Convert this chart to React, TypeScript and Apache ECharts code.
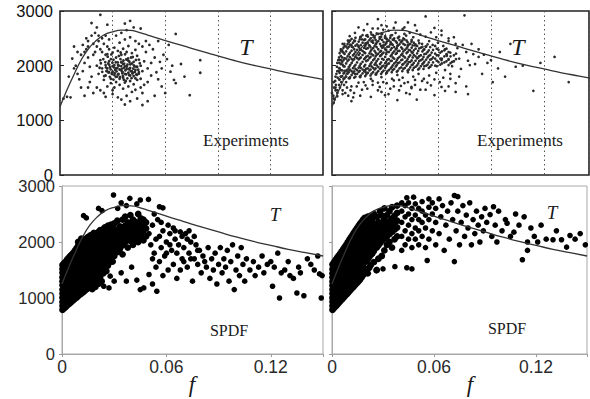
import React, { useEffect, useRef } from "react";
import * as echarts from "echarts";

// Model curve T(f)
const curveF = [0, 0.004, 0.008, 0.012, 0.016, 0.02, 0.025, 0.03, 0.035, 0.04, 0.045, 0.05, 0.06, 0.07, 0.08, 0.09, 0.1, 0.11, 0.12, 0.13, 0.14, 0.15];
const curveT = [1250, 1560, 1840, 2100, 2300, 2440, 2560, 2620, 2650, 2645, 2610, 2560, 2460, 2365, 2270, 2180, 2090, 2010, 1940, 1870, 1810, 1750];

const yTicks = [0, 1000, 2000, 3000];
const xTickValues = [0, 0.06, 0.12];
const xTickLabels = ["0", "0.06", "0.12"];

// Experiments, left panel
const expLeft: number[][] = [
[.026,1820],[.027,1950],[.028,2080],[.029,1760],[.030,1890],[.031,2010],[.032,2150],[.033,1840],[.034,1930],[.035,2060],[.036,1780],[.037,1990],[.038,2110],[.039,1870],[.040,1960],[.041,2040],[.042,1810],[.043,1920],[.044,2180],[.045,1880],
[.026,2010],[.027,2210],[.028,1880],[.029,2120],[.030,1990],[.031,1830],[.032,1950],[.033,2060],[.034,1760],[.035,1910],[.036,2030],[.037,1850],[.038,1940],[.039,2090],[.040,1820],[.041,1900],[.042,2070],[.043,1770],[.044,1980],[.045,2110],
[.0265,1900],[.0275,2040],[.0285,1970],[.0295,1850],[.0305,2110],[.0315,1920],[.0325,1800],[.0335,2000],[.0345,2120],[.0355,1860],[.0365,1960],[.0375,1720],[.0385,2020],[.0395,1940],[.0405,2150],[.0415,1870],[.0425,1990],[.0435,1840],
[.030,2240],[.033,2270],[.035,2200],[.038,2250],[.041,2230],[.028,2300],[.031,2330],[.036,2310],[.039,2360],[.043,2290],
[.029,1680],[.032,1700],[.034,1650],[.037,1690],[.040,1720],[.042,1660],[.044,1740],[.031,1600],[.036,1580],[.039,1620],
[.024,1950],[.023,2100],[.022,1850],[.024,2250],[.021,2000],[.025,1740],[.046,2000],[.047,1900],[.048,2080],[.046,1760],
[.015,2300],[.016,2150],[.017,1980],[.018,1800],[.019,2400],[.020,2250],[.014,2050],[.013,1900],[.012,2200],[.017,1700],
[.018,2550],[.020,2600],[.022,2450],[.024,2500],[.026,2550],[.028,2480],[.021,1600],[.023,1550],[.025,1500],[.027,1620],
[.030,1480],[.033,1420],[.035,1380],[.038,1450],[.041,1520],[.043,1560],[.046,1600],[.048,1650],[.050,1700],[.052,1820],
[.050,1950],[.052,2050],[.054,2150],[.049,2250],[.047,2350],[.045,2400],[.043,2450],[.040,2520],[.037,2480],[.034,2420],
[.032,2550],[.035,2600],[.038,2650],[.042,2700],[.055,1880],[.056,1750],[.058,1950],[.057,2070],[.059,2200],[.053,2300],
[.051,2380],[.049,2450],[.047,1500],[.044,1400],[.040,1350],[.037,1290],[.030,1550],[.026,1430],[.019,1500],[.016,1600],
[.011,1750],[.010,1850],[.009,2000],[.012,1600],[.014,1450],[.010,2250],[.008,2350],[.013,2380],[.016,2450],[.021,2700],
[.014,2250],[.016,2350],[.019,2200],[.021,2350],[.023,2300],[.025,2400],[.027,2350],[.015,2500],[.022,2550],[.026,2200],
[.002,1400],[.004,1430],[.006,1420],[.007,2130],[.008,1950],[.005,1800],[.018,2780],[.023,2930],[.027,2750],[.040,2820],
[.037,2770],[.046,2680],[.066,2580],[.062,2380],[.080,2100],[.080,1870],[.074,1460],[.071,1800],[.065,1740],[.066,1680],
[.063,1890],[.060,1500],[.058,1620],[.064,2000],[.061,2120],[.069,2030],[.056,2450],[.054,1450],[.050,1350],[.047,1280],
[.0252,1810],[.0268,1905],[.0281,2015],[.0247,2120],[.0293,2205],[.0305,1745],[.0312,1862],[.0327,1958],[.0318,2063],[.0336,2178],
[.0342,1793],[.0357,1885],[.0349,1992],[.0362,2095],[.0371,2208],[.0384,1768],[.0377,1842],[.0392,1937],[.0401,2026],[.0388,2132],
[.0413,1858],[.0408,1772],[.0421,2006],[.0433,2105],[.0446,1926],[.0439,1832],[.0455,2045],[.0262,1968],[.0276,1876],[.0289,1932],
[.0299,2052],[.0323,1896],[.0331,2012],[.0353,1946],[.0366,2037],[.0381,1985],[.0396,2071],[.0418,1947],[.0427,1885],[.0284,1795],
[.0309,1968],[.0334,1848],[.0359,1812],[.0373,1915],[.0403,1903],[.0258,2065],[.0272,2164],[.0346,2241],[.0364,1742],[.0394,1829],
[.0415,2158],[.0297,1868],[.0318,1795],[.0351,2068],[.0379,2116],[.0436,1977],[.0449,1853],[.0241,1887],[.0226,1962],[.0233,2043]
];

// Experiments, right panel (individual points)
const expRight: number[][] = [
[.020,2760],[.026,2850],[.031,2720],[.036,2790],[.041,2700],[.047,2740],[.053,2900],[.075,2920],[.015,2700],[.058,2690],[.043,2790],[.029,2660],[.028,2740],
[.010,2540],[.013,2600],[.016,2520],[.018,2650],[.020,2560],[.022,2610],[.024,2530],[.026,2680],[.028,2580],[.030,2510],[.032,2640],[.034,2560],[.036,2600],[.038,2530],[.040,2670],[.042,2550],[.044,2600],[.046,2520],[.048,2640],[.050,2570],[.053,2530],[.056,2610],[.059,2520],[.062,2560],[.066,2500],[.023,2680],[.035,2690],[.027,2520],[.041,2580],[.033,2510],
[.007,2400],[.009,2460],[.011,2380],[.013,2450],[.015,2360],[.017,2480],[.019,2410],[.021,2370],[.023,2460],[.025,2400],[.027,2490],[.029,2370],[.031,2440],[.033,2390],[.035,2470],[.037,2360],[.039,2430],[.041,2480],[.043,2380],[.045,2440],[.047,2370],[.049,2460],[.051,2400],[.053,2350],[.055,2450],[.057,2380],[.060,2420],[.063,2360],[.066,2450],[.070,2400],[.074,2380],
[.006,2250],[.064,2300],[.067,2240],[.071,2320],[.076,2250],[.080,2210],[.065,2200],
[.005,2100],[.062,2100],[.065,2180],[.068,2070],[.072,2130],[.077,2090],[.083,2160],[.088,2050],[.066,2110],
[.004,1950],[.006,2020],[.064,1920],[.068,1990],[.073,1940],[.078,2010],
[.005,1800],[.007,1870],[.010,1770],[.013,1850],[.016,1790],[.019,1880],[.022,1760],[.025,1840],[.028,1790],[.031,1870],[.034,1760],[.037,1830],[.040,1780],[.043,1880],[.046,1800],[.049,1850],[.052,1760],[.055,1820],[.059,1870],[.063,1780],[.067,1850],[.072,1800],
[.004,1650],[.008,1700],[.011,1620],[.015,1690],[.019,1640],[.023,1720],[.027,1610],[.031,1680],[.035,1730],[.039,1630],[.043,1700],[.047,1650],[.051,1720],[.056,1640],[.061,1700],[.066,1620],[.070,1680],[.026,1690],[.038,1740],[.045,1610],
[.003,1550],[.006,1480],[.012,1420],[.017,1560],[.022,1430],[.028,1520],[.033,1580],[.037,1370],[.042,1500],[.048,1380],[.053,1560],[.058,1460],[.064,1540],[.070,1520],[.077,1480],[.030,1460],[.045,1590],[.003,1440],[.001,1320],[.002,1600],
[.079,2400],[.083,2300],[.086,2200],[.090,2100],[.094,1950],[.098,1800],[.095,2250],[.101,2400],[.108,2000],[.114,1540],[.118,2050],[.126,2160],[.134,1700],[.062,2640],[.085,1850],[.091,1700],[.104,1980],[.076,1620],[.069,2520],[.081,2030],
[.001,1400],[.001,1700],[.002,1800],[.002,1550],[.003,1900],[.003,2050],[.004,2150],[.004,1750],[.005,2300],[.000,1500],[.006,2400],
[.0008,1450],[.0012,1600],[.0018,1720],[.0022,1650],[.0025,1850],[.0028,1980],[.0032,1780],[.0035,2100],[.0038,1900],[.0042,2050],
[.0015,1380],[.0030,1500],[.0045,1600],[.0052,1700],[.0060,1550],[.0068,1650],[.0075,1500],[.0085,1600],[.0092,1450],[.0105,1550],
[.0110,1350],[.0125,1500],[.0140,1620],[.0160,1450],[.0180,1700],[.0200,1580],[.0230,1650],[.0260,1550],[.0290,1700],[.0320,1480],
[.0350,1620],[.0380,1550],[.0410,1680],[.0440,1480],[.0470,1740],[.0500,1560],[.0540,1690],[.0580,1750],[.0620,1610],[.0670,1760]
];
// Experiments, right panel (dense core, column by column)
const expRightCore: [number, number[]][] = [
[.0043,[1745,1870,1955,2105,2230]],
[.0050,[1800,1920,2030,2180,2270]],
[.0058,[1810,1915,2070,2150,2290]],
[.0065,[1760,1860,1990,2100,2240,2330]],
[.0071,[1770,1905,1985,2135,2215,2360]],
[.0080,[1800,1910,2040,2130,2260,2350]],
[.0088,[1855,1930,2085,2170,2315,2395]],
[.0095,[1770,1880,1975,2110,2205,2345,2430]],
[.0102,[1790,1925,2010,2155,2240,2385,2460]],
[.0111,[1830,1900,2050,2125,2275,2350,2490]],
[.0119,[1870,1955,2100,2190,2335,2420]],
[.0126,[1780,1895,1985,2120,2215,2300,2460]],
[.0133,[1800,1940,2015,2165,2250,2365,2510]],
[.0142,[1850,1920,2060,2140,2290,2390]],
[.0151,[1885,1965,2115,2195,2345,2440]],
[.0157,[1800,1905,2000,2135,2225,2310,2480]],
[.0163,[1820,1960,2035,2150,2290,2375,2530]],
[.0173,[1860,1930,2070,2195,2270,2420,2560]],
[.0182,[1900,1985,2120,2245,2325,2470]],
[.0188,[1810,1920,2015,2140,2230,2360,2480]],
[.0194,[1840,1945,2085,2165,2310,2395,2550]],
[.0203,[1870,1950,2100,2180,2320,2420,2530]],
[.0212,[1915,1995,2140,2225,2370,2465]],
[.0218,[1820,1930,2030,2160,2260,2340,2500]],
[.0224,[1855,1985,2060,2210,2295,2440,2570]],
[.0233,[1880,1960,2100,2190,2320,2420,2560]],
[.0241,[1930,2020,2130,2270,2355,2510]],
[.0247,[1840,1950,2050,2170,2240,2390,2470]],
[.0253,[1870,2005,2085,2200,2340,2425,2590]],
[.0262,[1900,1975,2120,2220,2300,2450,2580]],
[.0272,[1940,2030,2175,2255,2400,2505]],
[.0278,[1850,1960,2060,2190,2270,2360,2530]],
[.0284,[1880,1985,2125,2215,2330,2470,2580]],
[.0292,[1910,2000,2110,2240,2340,2430]],
[.0301,[1960,2045,2160,2300,2385,2540]],
[.0307,[1860,1990,2070,2210,2290,2410,2500]],
[.0313,[1895,2025,2110,2250,2345,2480]],
[.0322,[1920,2040,2120,2250,2350,2460]],
[.0332,[1950,2085,2175,2290,2430,2550]],
[.0338,[1880,1975,2090,2200,2320,2400]],
[.0344,[1920,2005,2150,2235,2380,2475]],
[.0352,[1940,2040,2130,2260,2340,2500]],
[.0361,[1985,2065,2215,2300,2445]],
[.0367,[1890,2010,2100,2230,2320,2420]],
[.0373,[1910,2045,2135,2270,2370,2510]],
[.0382,[1950,2060,2160,2270,2390,2470]],
[.0392,[1970,2100,2195,2335,2430]],
[.0398,[1900,2020,2110,2220,2310,2460]],
[.0404,[1940,2030,2175,2260,2400,2500]],
[.0413,[1960,2060,2150,2290,2380]],
[.0422,[2000,2085,2230,2315,2460]],
[.0428,[1910,2030,2120,2250,2350,2430]],
[.0435,[1930,2065,2160,2290,2385]],
[.0443,[1970,2070,2190,2280,2400]],
[.0451,[2010,2095,2245,2330,2470]],
[.0457,[1920,2020,2150,2240,2370]],
[.0463,[1960,2050,2195,2280,2420]],
[.0473,[1980,2090,2170,2310,2390]],
[.0482,[2005,2135,2225,2360]],
[.0488,[1930,2040,2150,2270]],
[.0494,[1950,2085,2175,2315,2410]],
[.0503,[1990,2100,2190,2330]],
[.0512,[2030,2120,2260,2345]],
[.0518,[1940,2050,2160,2290]],
[.0523,[1990,2075,2210,2300]],
[.0533,[2000,2110,2220,2350]],
[.0541,[2020,2150,2250,2390]],
[.0548,[1960,2060,2180,2280]],
[.0556,[1980,2110,2195,2340]],
[.0564,[2010,2120,2240]],
[.0572,[2060,2150,2290]],
[.0584,[2000,2130,2220,2360]],
[.0593,[1990,2090,2190,2310]],
[.0603,[2065,2190,2290]],
[.0613,[2020,2130,2240]],
[.0622,[2040,2130,2260]],
[.0636,[2060,2170,2280]],
[.0648,[2080,2210,2310]],
[.0660,[2010,2120,2250]],
[.0671,[2045,2170]],
[.0690,[2080,2190]],
[.0702,[2120,2220]]
];

// SPDF, left panel (dense band, column by column)
const spdLeftBand: [number, number[]][] = [
[.0003,[790,860,930,1010,1080,1150,1230,1300,1370,1450,1520,1590]],
[.0012,[815,890,960,1035,1105,1180,1250,1325,1400,1470,1545,1620]],
[.0021,[840,915,985,1060,1130,1205,1280,1350,1425,1495,1570,1650]],
[.0030,[870,940,1015,1085,1160,1230,1305,1380,1450,1525,1600,1690]],
[.0039,[890,965,1040,1110,1185,1255,1330,1405,1475,1550,1625,1720]],
[.0048,[915,990,1060,1135,1210,1280,1355,1430,1500,1575,1650,1750]],
[.0057,[940,1015,1090,1160,1235,1310,1380,1455,1530,1600,1680,1780]],
[.0066,[965,1040,1115,1185,1260,1335,1410,1480,1555,1630,1710,1810]],
[.0075,[990,1065,1140,1215,1285,1360,1435,1510,1580,1655,1740,1850]],
[.0084,[1010,1090,1165,1240,1310,1385,1460,1535,1610,1685,1770,1890]],
[.0093,[1035,1110,1190,1265,1340,1410,1485,1560,1640,1720,1810,1930,2000]],
[.0102,[1060,1135,1210,1290,1365,1440,1510,1590,1670,1750,1840,1960]],
[.0111,[1080,1160,1235,1315,1390,1465,1540,1620,1700,1780,1870,1990,2060]],
[.0120,[1100,1180,1260,1340,1415,1490,1570,1650,1730,1810,1900,2020]],
[.0129,[1125,1205,1290,1365,1440,1520,1600,1680,1760,1840,1930,2040]],
[.0138,[1150,1235,1310,1390,1470,1550,1630,1710,1790,1870,1960,2060]],
[.0147,[1170,1330,1415,1495,1575,1655,1735,1815,1900,1990,2080]],
[.0156,[1195,1280,1440,1520,1600,1680,1760,1840,1925,2010,2100]],
[.0165,[1220,1380,1465,1545,1625,1705,1790,1870,1950,2040,2120]],
[.0174,[1160,1320,1490,1570,1650,1735,1815,1895,1980,2070]],
[.0183,[1270,1430,1515,1600,1680,1760,1845,1925,2010,2100,2160]],
[.0192,[1200,1370,1545,1625,1710,1790,1870,1955,2040,2130]],
[.0201,[1320,1480,1570,1655,1735,1820,1900,1985,2070,2150]],
[.0210,[1260,1420,1600,1685,1765,1850,1930,2015,2100,2180]],
[.0219,[1380,1540,1630,1715,1795,1880,1960,2045,2130,2210]],
[.0228,[1300,1470,1660,1745,1825,1910,1990,2075,2160]],
[.0237,[1440,1600,1690,1775,1860,1940,2025,2110,2230]],
[.0246,[1520,1640,1725,1810,1890,1975,2060,2145,2260]],
[.0255,[1480,1680,1760,1845,1925,2010,2095,2180]],
[.0264,[1580,1720,1800,1880,1960,2045,2130,2220,2290]],
[.0273,[1640,1760,1840,1920,2000,2085,2170,2260]],
[.0282,[1700,1800,1880,1960,2040,2125,2210,2310]],
[.0291,[1650,1840,1920,2000,2085,2170,2250]],
[.0300,[1750,1880,1960,2045,2130,2215,2330]],
[.0318,[1820,1950,2040,2130,2220,2380]],
[.0333,[1880,2000,2090,2180,2280]],
[.0348,[1780,1940,2050,2140,2230,2400]],
[.0363,[2000,2100,2190,2290,2450]],
[.0378,[1900,2060,2150,2250,2350]],
[.0393,[2020,2120,2210,2310,2480]],
[.0408,[1950,2080,2180,2280,2400]],
[.0423,[2050,2150,2250,2360]],
[.0438,[2000,2120,2220,2330,2500]],
[.0453,[2080,2190,2300,2420]],
[.0468,[2030,2150,2270,2400]],
[.0483,[2100,2240,2350]]
];
// SPDF, left panel (individual points)
const spdLeft: number[][] = [
[.0124,2470],[.014,2430],[.021,2600],[.023,2560],[.0296,2840],[.034,2700],[.039,2780],[.045,2750],[.0497,2760],[.056,2630],[.058,2610],[.043,2680],[.032,2600],[.037,2650],
[.024,1210],[.027,1180],[.0277,1390],[.037,1300],[.047,1180],[.0545,1120],[.043,1320],[.034,1450],[.040,1550],[.050,1420],[.030,1300],[.021,1250],[.045,1150],[.052,1250],
[.050,2150],[.051,1950],[.052,2300],[.053,1800],[.054,2050],[.055,2400],[.056,1650],[.057,1900],[.058,2200],[.059,1750],[.060,2000],[.061,1500],[.062,2150],[.063,1850],[.064,1600],[.065,2050],[.066,1350],[.067,1950],[.068,2180],[.069,1700],[.070,1900],[.071,2150],[.072,1550],[.073,1800],[.074,2000],[.075,1300],[.076,1700],[.077,1950],[.078,1600],[.079,1850],[.080,1450],[.081,1750],[.082,1650],[.083,1550],[.084,1900],[.085,1350],[.086,1700],[.087,1500],[.088,1800],[.089,1250],[.090,1600],[.091,1900],[.092,1450],[.093,1700],[.094,1550],[.095,1850],[.096,1300],[.097,1650],[.098,1950],[.099,1150],[.100,1500],[.101,1750],[.102,1400],[.103,1900],[.104,1600],[.105,1300],[.106,1700],[.108,1500],[.110,1650],[.111,1400],[.113,1550],[.115,1750],[.116,1450],[.118,1600],[.120,1650],[.121,1210],[.122,1550],[.124,1800],[.125,1000],[.126,1450],[.128,1500],[.130,1650],[.131,1400],[.133,1350],[.135,1090],[.136,1550],[.137,1450],[.139,1040],[.141,1700],[.143,1600],[.145,1500],[.147,1750],[.148,1430],[.149,1000],[.1495,1400],
[.052,1700],[.054,1550],[.056,2100],[.058,1400],[.060,1800],[.062,1950],[.064,2250],[.066,1800],[.068,1500],[.070,1650],[.072,2050],[.074,1700],[.076,2100],[.078,1850],[.053,2500],[.057,2350],[.061,2300],[.065,2200],[.069,2100],[.073,2200]
];

// SPDF, right panel (dense band, column by column)
const spdRightBand: [number, number[]][] = [
[.0003,[790,860,935,1005,1080,1150,1225,1295,1370,1440,1515,1600]],
[.0012,[820,890,965,1035,1110,1180,1255,1330,1400,1475,1550,1640]],
[.0021,[850,920,995,1070,1140,1215,1290,1360,1435,1510,1590,1680]],
[.0030,[880,955,1025,1100,1175,1245,1320,1395,1470,1545,1630,1720]],
[.0039,[910,985,1060,1130,1205,1280,1355,1430,1505,1585,1670,1755]],
[.0048,[940,1015,1090,1165,1240,1315,1390,1465,1540,1620,1705,1790]],
[.0057,[970,1045,1120,1195,1270,1345,1420,1500,1580,1660,1745,1830]],
[.0066,[1000,1075,1150,1230,1305,1380,1455,1535,1615,1695,1780,1870]],
[.0075,[1030,1105,1185,1260,1335,1415,1490,1570,1650,1735,1820,1910]],
[.0084,[1060,1140,1215,1295,1370,1450,1530,1610,1690,1775,1860,1950]],
[.0093,[1090,1170,1250,1325,1405,1485,1565,1645,1730,1815,1900,1995]],
[.0102,[1120,1200,1280,1360,1440,1520,1600,1685,1770,1855,1945,2040]],
[.0111,[1150,1230,1310,1390,1475,1555,1640,1725,1810,1900,1990,2080]],
[.0120,[1180,1260,1345,1425,1510,1595,1680,1765,1850,1940,2030,2120]],
[.0129,[1210,1295,1380,1460,1545,1630,1715,1805,1895,1985,2075,2165]],
[.0138,[1240,1325,1410,1495,1580,1665,1755,1845,1935,2025,2115,2205]],
[.0147,[1270,1440,1525,1615,1700,1790,1880,1970,2065,2160,2245]],
[.0156,[1300,1390,1560,1650,1740,1830,1920,2010,2105,2200,2285]],
[.0165,[1330,1500,1595,1685,1775,1865,1960,2050,2145,2240,2325]],
[.0174,[1370,1450,1630,1720,1810,1905,2000,2090,2185,2280,2360]],
[.0183,[1410,1570,1665,1755,1850,1945,2040,2130,2225,2320,2400]],
[.0192,[1450,1520,1700,1790,1885,1980,2075,2170,2265,2360,2430]],
[.0201,[1490,1650,1735,1830,1925,2020,2115,2210,2305,2400]],
[.0210,[1440,1690,1775,1870,1960,2055,2150,2245,2340,2450]],
[.0219,[1540,1730,1815,1905,2000,2095,2190,2285,2380]],
[.0228,[1590,1770,1855,1945,2040,2135,2230,2325,2470]],
[.0237,[1800,1890,1980,2075,2170,2265,2360,2430]],
[.0246,[1640,1840,1930,2020,2115,2210,2305,2500]],
[.0263,[1500,1900,2000,2100,2210,2320,2450]],
[.0273,[1700,1940,2040,2150,2250,2360]],
[.0283,[1980,2080,2190,2300,2550]],
[.0293,[1750,2020,2120,2230,2340,2470]],
[.0308,[1850,2060,2170,2280,2400,2600]],
[.0323,[1950,2100,2210,2330,2480]],
[.0338,[2000,2140,2250,2370,2550]],
[.0353,[1900,2180,2300,2420,2620]],
[.0368,[2050,2220,2340,2470]],
[.0383,[2100,2260,2380,2520,2650]]
];
// SPDF, right panel (individual points)
const spdRight: number[][] = [
[.044,1540],[.047,1520],[.030,1520],[.037,1560],[.026,1490],
[.041,1850],[.041,2100],[.041,2350],[.041,2550],[.041,2700],
[.043,1950],[.043,2200],[.043,2450],[.043,2650],
[.044,2790],[.045,2050],[.045,2300],[.045,2500],[.045,2700],
[.047,1900],[.047,2150],[.047,2400],[.047,2600],
[.048,2800],[.049,2050],[.049,2250],[.049,2480],[.049,2680],
[.051,1950],[.051,2200],[.051,2400],[.051,2600],
[.053,2100],[.053,2350],[.053,2550],[.053,2720],
[.055,1900],[.055,2250],[.055,2480],
[.056,1670],[.057,2770],[.057,2050],[.057,2400],[.057,2620],
[.059,2200],[.059,2500],[.059,2700],
[.061,1950],[.061,2350],[.061,2600],[.063,2770],[.063,2150],[.064,2450],[.065,2650],[.066,1850],[.067,2300],[.068,2550],[.069,2050],[.070,2700],[.071,2400],[.072,1650],[.072,2830],[.073,2200],[.074,2810],[.074,2550],[.075,1950],[.076,2350],[.077,2650],[.078,2100],[.079,2480],[.080,2250],[.081,2700],[.082,1950],[.083,2400],[.084,2150],[.085,2550],[.086,2300],[.087,2000],[.088,2450],[.089,2200],[.090,2600],[.091,2350],[.093,2490],[.094,2100],[.095,2630],[.096,2300],[.097,2000],[.098,2550],[.100,2200],[.102,2400],[.103,2335],[.105,2100],[.107,2175],[.108,2500],[.110,2300],[.112,1683],[.113,2450],[.115,1850],[.115,2000],[.117,2250],[.119,2100],[.121,2000],[.123,2300],[.126,2050],[.130,2040],[.132,2200],[.135,2040],[.138,1909],[.140,2116],[.143,2050],[.146,2150],[.149,1950]
];

const fromColumns = (cols: [number, number[]][]) => cols.flatMap(([f, ts]) => ts.map((t) => [f, t]));
const curveData = curveF.map((f, i) => [f, curveT[i]]);

const labelFont = "Liberation Sans";
const serif = "Liberation Serif";

function xLabel(v: number) {
  const i = xTickValues.findIndex((t) => Math.abs(t - v) < 1e-9);
  return i >= 0 ? xTickLabels[i] : "";
}
function yLabel(v: number) {
  return yTicks.includes(v) ? String(v) : "";
}

export default function App() {
  const ref = useRef<HTMLDivElement>(null);
  useEffect(() => {
    if (!ref.current) return;
    const chart = echarts.init(ref.current, undefined, { renderer: "svg" });
    const topGrid = { show: true, borderColor: "#222", borderWidth: 1.6, backgroundColor: "transparent" };
    const botGrid = { show: true, borderColor: "#a8a8a8", borderWidth: 1, backgroundColor: "transparent" };
    const grids = [
      { ...topGrid, left: 60, top: 11, width: 263, height: 164 },
      { ...topGrid, left: 332, top: 11, width: 257, height: 164 },
      { ...botGrid, left: 62, top: 186, width: 261, height: 168 },
      { ...botGrid, left: 332, top: 186, width: 266, height: 168 },
    ];
    const topX = (gi: number, max: number) => ({
      type: "value", gridIndex: gi, min: 0, max, interval: 0.03,
      axisLine: { show: false }, axisTick: { show: false }, axisLabel: { show: false },
      splitLine: { show: true, lineStyle: { type: [1.5, 3], color: "#555", width: 1 } },
    });
    const botX = (gi: number) => ({
      type: "value", gridIndex: gi, min: 0, max: 0.15, interval: 0.06,
      axisLine: { show: true, lineStyle: { color: "#a8a8a8", width: 1 } },
      axisTick: { show: true, length: 3, lineStyle: { color: "#999" } },
      axisLabel: { show: true, formatter: xLabel, color: "#2a2a2a", fontFamily: labelFont, fontSize: 17.5, margin: 4 },
      splitLine: { show: false },
    });
    const yAx = (gi: number, showLabel: boolean, top: boolean) => ({
      type: "value", gridIndex: gi, min: 0, max: 3000, interval: 1000,
      axisLine: { show: !top, lineStyle: { color: "#a8a8a8", width: 1 } },
      axisTick: top
        ? { show: true, inside: true, length: 4, lineStyle: { color: "#222" } }
        : { show: true, length: 3, lineStyle: { color: "#999" } },
      axisLabel: { show: showLabel, formatter: yLabel, color: top ? "#111" : "#2a2a2a", fontFamily: labelFont, fontSize: 16.5, lineHeight: 12, margin: 7 },
      splitLine: { show: false },
    });
    const scatter = (i: number, data: number[][], size: number, color: string) => ({
      type: "scatter", xAxisIndex: i, yAxisIndex: i, data, symbol: "circle", symbolSize: size,
      itemStyle: { color, opacity: 1 }, clip: true, z: 2, silent: true, large: false,
    });
    const line = (i: number) => ({
      type: "line", xAxisIndex: i, yAxisIndex: i, data: curveData, smooth: true, showSymbol: false,
      lineStyle: { color: "#333", width: 1.3 }, z: 3, clip: true, silent: true,
    });
    const txt = (x: number, y: number, text: string, size: number, italic: boolean) => ({
      type: "text", x, y, z: 10,
      style: { text, fill: "#1a1a1a", font: `${italic ? "italic " : ""}${size}px "${serif}"`, textAlign: "center", textVerticalAlign: "middle" },
    });
    chart.setOption({
      animation: false,
      backgroundColor: "#fff",
      grid: grids,
      xAxis: [topX(0, 0.15), topX(1, 0.1455), botX(2), botX(3)],
      yAxis: [yAx(0, true, true), yAx(1, false, true), yAx(2, true, false), yAx(3, false, false)],
      series: [
        scatter(0, expLeft, 2.8, "#2b2b2b"),
        scatter(1, expRight.concat(fromColumns(expRightCore)), 2.7, "#2b2b2b"),
        scatter(2, fromColumns(spdLeftBand), 6.8, "#000"),
        scatter(2, spdLeft, 5.6, "#000"),
        scatter(3, fromColumns(spdRightBand), 6.8, "#000"),
        scatter(3, spdRight, 5.6, "#000"),
        line(0), line(1), line(2), line(3),
      ],
      graphic: [
        txt(246, 47, "T", 24, true),
        txt(518, 47, "T", 24, true),
        txt(275, 214, "T", 19, true),
        txt(552, 212, "T", 19, true),
        txt(246, 140, "Experiments", 17, false),
        txt(520, 140, "Experiments", 17, false),
        txt(229, 330, "SPDF", 16, false),
        txt(507, 328, "SPDF", 16, false),
        txt(192, 384, "f", 23, true),
        txt(470, 384, "f", 23, true),
      ],
    });
    return () => chart.dispose();
  }, []);
  return <div ref={ref} style={{ position: "absolute", left: 0, top: 0, width: 590, height: 399 }} />;
}
